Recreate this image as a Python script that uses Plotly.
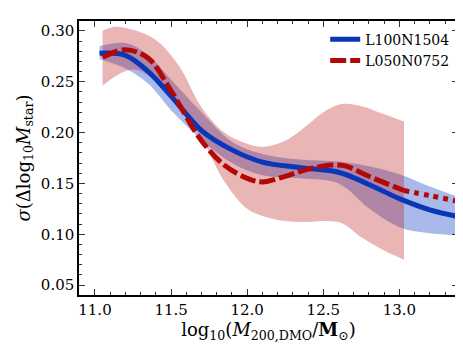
import plotly.graph_objects as go

# colours
blue, red = '#0a36b8', '#b30808'

# L100N1504 (blue) median and scatter band
blue_x = [11.03, 11.2, 11.35, 11.5, 11.7, 11.9, 12.1, 12.35, 12.6, 12.8, 13.0, 13.2, 13.4]
blue_med = [0.278, 0.276, 0.260, 0.236, 0.202, 0.183, 0.171, 0.1655, 0.161, 0.149, 0.135, 0.124, 0.117]
blue_hi = [0.285, 0.288, 0.276, 0.252, 0.220, 0.191, 0.179, 0.1735, 0.1715, 0.167, 0.159, 0.147, 0.136]
blue_lo = [0.272, 0.263, 0.248, 0.222, 0.193, 0.170, 0.158, 0.155, 0.150, 0.1255, 0.107, 0.101, 0.099]

# L050N0752 (red) median, extrapolated tail and band
red_x = [11.05, 11.2, 11.35, 11.5, 11.7, 11.85, 12.0, 12.1, 12.25, 12.4, 12.55, 12.65, 12.8, 13.03]
red_med = [0.274, 0.2815, 0.273, 0.241, 0.192, 0.168, 0.155, 0.1515, 0.157, 0.164, 0.168, 0.167, 0.157, 0.143]
red_tail_x = [13.03, 13.2, 13.4]
red_tail = [0.143, 0.138, 0.132]
red_band_x = [11.05, 11.13, 11.25, 11.4, 11.55, 11.7, 11.85, 12.0, 12.1, 12.25, 12.4, 12.5, 12.62, 12.75, 12.9, 13.03]
red_hi = [0.300, 0.304, 0.301, 0.291, 0.266, 0.225, 0.200, 0.189, 0.186, 0.192, 0.208, 0.220, 0.228, 0.226, 0.218, 0.211]
red_lo = [0.246, 0.255, 0.262, 0.252, 0.232, 0.195, 0.152, 0.125, 0.118, 0.113, 0.112, 0.113, 0.111, 0.097, 0.084, 0.075]

font = 'DejaVu Serif'
fig = go.Figure()

# bands
fig.add_trace(go.Scatter(x=blue_x, y=blue_lo, mode='lines', line=dict(width=0, shape='spline'),
                         showlegend=False, hoverinfo='skip'))
fig.add_trace(go.Scatter(x=blue_x, y=blue_hi, mode='lines', line=dict(width=0, shape='spline'),
                         fill='tonexty', fillcolor='rgba(30,70,200,0.38)', showlegend=False, hoverinfo='skip'))
fig.add_trace(go.Scatter(x=red_band_x, y=red_lo, mode='lines', line=dict(width=0, shape='spline'),
                         showlegend=False, hoverinfo='skip'))
fig.add_trace(go.Scatter(x=red_band_x, y=red_hi, mode='lines', line=dict(width=0, shape='spline'),
                         fill='tonexty', fillcolor='rgba(190,30,30,0.33)', showlegend=False, hoverinfo='skip'))

# medians
fig.add_trace(go.Scatter(x=blue_x, y=blue_med, mode='lines', name='L100N1504',
                         line=dict(color=blue, width=5, shape='spline')))
fig.add_trace(go.Scatter(x=red_x, y=red_med, mode='lines', name='L050N0752',
                         line=dict(color=red, width=5, shape='spline', dash='16px,4px')))
fig.add_trace(go.Scatter(x=red_tail_x, y=red_tail, mode='lines', showlegend=False,
                         line=dict(color=red, width=5, shape='spline', dash='5px,5px')))

axis_common = dict(showgrid=False, zeroline=False, ticks='inside', ticklen=6, tickwidth=1,
                   tickcolor='#333', mirror='allticks', showline=True, linecolor='black', linewidth=1.5,
                   tickfont=dict(family=font, size=15, color='black'))
fig.update_xaxes(range=[10.895, 13.385], dtick=0.5, tick0=11.0, tickformat='.1f',
                 minor=dict(dtick=0.1, ticks='inside', ticklen=3, tickcolor='#333'),
                 title=dict(text='log<sub>10</sub>(<i>M</i><sub>200,DMO</sub>/<b>M</b><sub>⊙</sub>)',
                            font=dict(family=font, size=18, color='black'), standoff=2),
                 **axis_common)
fig.update_yaxes(range=[0.0403, 0.3097], dtick=0.05, tick0=0.05, tickformat='.2f',
                 minor=dict(dtick=0.01, ticks='inside', ticklen=3, tickcolor='#333'),
                 title=dict(text='<i>σ</i>(Δlog<sub>10</sub><i>M</i><sub>star</sub>)',
                            font=dict(family=font, size=18, color='black'), standoff=6),
                 **axis_common)

fig.update_layout(width=463, height=344, margin=dict(l=71, r=12, t=11, b=57),
                  plot_bgcolor='white', paper_bgcolor='white',
                  legend=dict(x=0.99, y=0.99, xanchor='right', yanchor='top', bgcolor='rgba(0,0,0,0)',
                              traceorder='normal',
                              font=dict(family=font, size=14, color='black'), tracegroupgap=0))

fig.write_html("out.html")
